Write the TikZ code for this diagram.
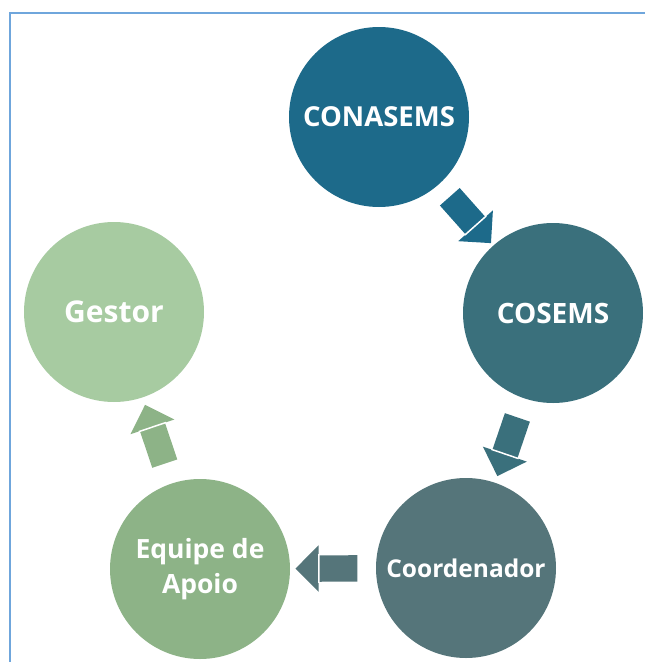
\documentclass[tikz,border=0pt]{standalone}
\usepackage{fontspec}
\setmainfont{Open Sans}
\usetikzlibrary{shapes.arrows,calc}

\definecolor{cona}{RGB}{29,106,138}
\definecolor{cose}{RGB}{58,112,124}
\definecolor{coord}{RGB}{85,117,122}
\definecolor{equipe}{RGB}{141,179,135}
\definecolor{gestor}{RGB}{167,203,161}
\definecolor{moldura}{RGB}{111,166,220}

\tikzset{
  ciclo/.style={circle, minimum size=180pt, inner sep=0pt, text=white, align=center},
  seta/.style={single arrow, minimum height=62pt, inner xsep=0pt, inner ysep=13pt,
    single arrow head extend=10pt},
  borda/.style={draw=moldura, line width=2pt}
}

\begin{document}
\begin{tikzpicture}[x=1pt, y=-1pt]
    \useasboundingbox (0,0) rectangle (645,662);
    \draw[borda] (10,662) -- (10,13) -- (645,13);
    % os cinco circulos
    \foreach \nm/\x/\y/\tam/\txt in {cona/379/117/27.5/CONASEMS, cose/553/313/28/COSEMS,
        coord/466/568/24.5/Coordenador, equipe/200/569/26.5/{Equipe de\\Apoio}, gestor/114/312/30/Gestor}{
        \node[ciclo, fill=\nm, font=\bfseries\fontsize{\tam}{35}\selectfont] (\nm) at (\x,\y) {\txt};
    }
    % setas entre eles
    \foreach \a/\b in {cona/cose, cose/coord, coord/equipe, equipe/gestor}{
        \path let \p1 = ($(\b)-(\a)$), \n1 = {atan2(\y1,\x1)} in
            node[seta, fill=\a, rotate=\n1] (s-\a) at ($(\a)!0.5!(\b)$) {};
        \draw[white, line width=1.5pt, shorten <=-1pt, shorten >=-1pt] (s-\a.before head) -- (s-\a.after head);
    }
\end{tikzpicture}
\end{document}
